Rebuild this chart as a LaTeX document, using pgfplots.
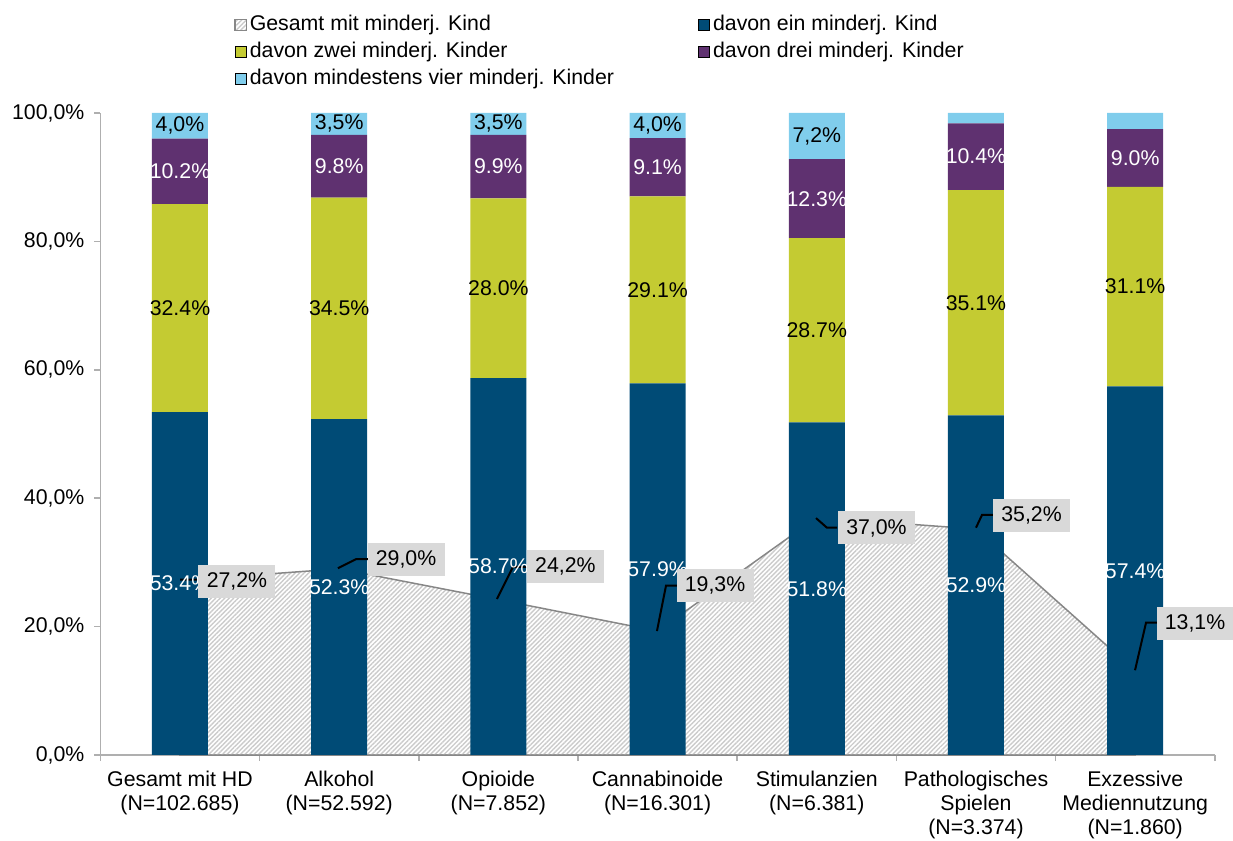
\documentclass[border=0pt]{standalone}
\usepackage{fontspec}
\setmainfont{Liberation Sans}
\usepackage{pgfplots}
\pgfplotsset{compat=1.18}
\usetikzlibrary{patterns.meta}
\definecolor{cblue}{RGB}{0,75,118}
\definecolor{cyellow}{RGB}{196,203,50}
\definecolor{cpurple}{RGB}{95,49,112}
\definecolor{ccyan}{RGB}{128,205,236}
\definecolor{cbox}{RGB}{217,217,217}
\definecolor{caxis}{RGB}{175,175,175}
\definecolor{cstripe}{RGB}{203,203,203}
\definecolor{carea}{RGB}{135,135,135}
\newcommand\f{\fontsize{10.65}{12}\selectfont}
\pgfplotsset{
  common/.style={width=557.2pt,height=321pt,scale only axis,
    xmin=-0.5,xmax=6.5,ymin=0,ymax=100,clip=false,
    at={(0,0)},anchor=south west},
  sqleg/.style={legend image code/.code={\draw[##1] (0pt,-2.8pt) rectangle (5.6pt,2.8pt);}},
  hatch/.style={pattern={Lines[angle=45,distance=1.6pt,line width=0.7pt]},pattern color=cstripe},
}
\begin{document}
\begin{tikzpicture}
\path[use as bounding box] (-50.2pt,-43pt) rectangle (566.3pt,377.5pt);
% axis 1: axes and area
\begin{axis}[common,
  axis x line*=bottom, axis y line*=left,
  axis line style={caxis,line width=0.8pt},
  tick align=outside, major tick length=3pt,
  tick style={caxis,line width=0.8pt},
  ytick={0,20,40,60,80,100},
  yticklabels={{0,0\%},{20,0\%},{40,0\%},{60,0\%},{80,0\%},{100,0\%}},
  yticklabel style={font=\f,xshift=-1.5pt},
  xtick={-0.5,0.5,1.5,2.5,3.5,4.5,5.5,6.5},
  xticklabels={},
  extra x ticks={0,1,2,3,4,5,6},
  extra x tick labels={{Gesamt mit HD\\(N=102.685)},{Alkohol\\(N=52.592)},{Opioide\\(N=7.852)},{Cannabinoide\\(N=16.301)},{Stimulanzien\\(N=6.381)},{Pathologisches\\Spielen\\(N=3.374)},{Exzessive\\Mediennutzung\\(N=1.860)}},
  extra x tick style={tick style={draw=none}},
  xticklabel style={align=center,font=\f,anchor=north,yshift=-1.5pt},
]
\addplot[hatch,draw=carea,line width=0.75pt] coordinates {(0,27.2)(1,29.0)(2,24.2)(3,19.3)(4,37.0)(5,35.2)(6,13.1)} \closedcycle;
\end{axis}
% axis 2: stacked bars and legend
\begin{axis}[common,hide axis,ybar stacked,bar width=28pt,
  legend columns=2, legend cell align=left,
  legend style={at={(0.1199,1.159)},anchor=north west,draw=none,fill=none,inner sep=0pt,font=\f,
    /tikz/every even column/.append style={column sep=40.5pt},
    /tikz/every odd column/.append style={column sep=0pt},
    nodes={inner sep=1.5pt,text height=8pt,text depth=2.5pt},row sep=0pt},
]
\addlegendimage{sqleg,hatch,draw=carea,line width=0.6pt}
\addplot[sqleg,fill=cblue,draw=none] coordinates {(0,53.4)(1,52.3)(2,58.7)(3,57.9)(4,51.8)(5,52.9)(6,57.4)};
\addplot[sqleg,fill=cyellow,draw=none] coordinates {(0,32.4)(1,34.5)(2,28.0)(3,29.1)(4,28.7)(5,35.1)(6,31.1)};
\addplot[sqleg,fill=cpurple,draw=none] coordinates {(0,10.2)(1,9.8)(2,9.9)(3,9.1)(4,12.3)(5,10.4)(6,9.0)};
\addplot[sqleg,fill=ccyan,draw=none] coordinates {(0,4.0)(1,3.4)(2,3.4)(3,3.9)(4,7.2)(5,1.6)(6,2.5)};
\legend{Gesamt mit minderj. Kind,davon ein minderj. Kind,davon zwei minderj. Kinder,davon drei minderj. Kinder,davon mindestens vier minderj. Kinder}
\end{axis}
% axis 3: labels
\begin{axis}[common,hide axis]
\addplot[draw=none,no markers,nodes near coords,point meta=explicit symbolic,
  nodes near coords style={anchor=center,font=\f,text=white,inner sep=0pt}] table[meta=lab] {
x y lab
0 26.7 53.4\%
1 26.15 52.3\%
2 29.35 58.7\%
3 28.95 57.9\%
4 25.9 51.8\%
5 26.45 52.9\%
6 28.7 57.4\%
0 91.0 10.2\%
1 91.7 9.8\%
2 91.65 9.9\%
3 91.55 9.1\%
4 86.65 12.3\%
5 93.2 10.4\%
6 93.0 9.0\%
};
\addplot[draw=none,no markers,nodes near coords,point meta=explicit symbolic,
  nodes near coords style={anchor=center,font=\f,text=black,inner sep=0pt}] table[meta=lab] {
x y lab
0 69.6 32.4\%
1 69.55 34.5\%
2 72.7 28.0\%
3 72.45 29.1\%
4 66.15 28.7\%
5 70.45 35.1\%
6 72.95 31.1\%
0 98.0 4,0\%
1 98.3 3,5\%
2 98.3 3,5\%
3 98.05 4,0\%
4 96.4 7,2\%
};
\addplot[black,line width=1pt,unbounded coords=jump] coordinates {
(0.0,27.3)(0.119,27.3)(nan,nan)
(0.992,29.1)(1.106,30.5)(1.181,30.5)(nan,nan)
(1.991,24.3)(2.092,29.3)(2.180,29.3)(nan,nan)
(2.996,19.3)(3.053,26.4)(3.122,26.4)(nan,nan)
(3.995,36.9)(4.064,35.4)(4.127,35.4)(nan,nan)
(5.0,35.4)(5.038,37.4)(5.107,37.4)(nan,nan)
(5.999,13.2)(6.068,20.6)(6.137,20.6)
};
\addplot[draw=none,no markers,nodes near coords,point meta=explicit symbolic,
  nodes near coords style={anchor=center,font=\f,text=black,fill=cbox,inner sep=0pt,minimum width=38.5pt,minimum height=16.5pt}] table[meta=lab] {
x y lab
0.358 27.1 27,2\%
1.420 30.45 29,0\%
2.421 29.36 24,2\%
3.361 26.4 19,3\%
4.375 35.36 37,0\%
5.349 37.3 35,2\%
6.376 20.56 13,1\%
};
\end{axis}
\end{tikzpicture}
\end{document}
